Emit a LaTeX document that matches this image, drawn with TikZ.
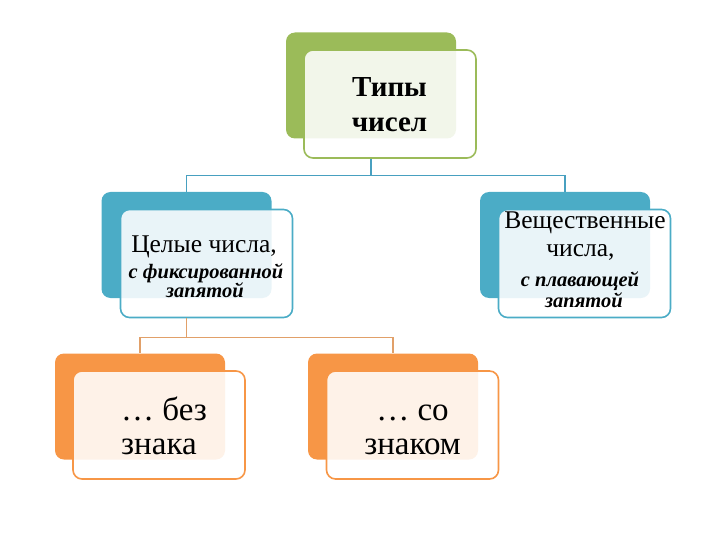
\documentclass[tikz,border=0pt]{standalone}
\usepackage{fontspec}
\setmainfont{Liberation Serif}
\definecolor{sgreen}{RGB}{155,187,89}
\definecolor{sblue}{RGB}{75,172,198}
\definecolor{sorange}{RGB}{247,150,70}
\definecolor{lblue}{RGB}{72,160,192}
\definecolor{lorange}{RGB}{225,160,105}
\begin{document}
\begin{tikzpicture}[x=1pt,y=-1pt,
  backbox/.style={rectangle, rounded corners=9pt, fill=#1, minimum width=170pt, minimum height=106pt, inner sep=0pt},
  frontbox/.style={rectangle, rounded corners=9pt, draw=#1, line width=1.6pt, fill=white, fill opacity=0.88, minimum width=172pt, minimum height=108pt, inner sep=0pt},
  link/.style={draw=#1, line width=1.4pt},
  txt/.style={inner sep=0pt, text=black, anchor=base},
  titletxt/.style={txt, font=\fontsize{29}{35}\selectfont\bfseries},
  maintxt/.style={txt, font=\fontsize{25.5}{27}\selectfont},
  subtxt/.style={txt, font=\fontsize{20.5}{20}\selectfont\bfseries\itshape},
  bigtxt/.style={txt, font=\fontsize{33}{34}\selectfont}]
\useasboundingbox (0,0) rectangle (720,540);
% back boxes
\node[backbox=sgreen] (gb) at (371,85.5) {};
\node[backbox=sblue] (lb) at (186.5,245) {};
\node[backbox=sblue] (rb) at (565,245) {};
\node[backbox=sorange] (ob1) at (140,406.5) {};
\node[backbox=sorange] (ob2) at (393,406.5) {};
% front boxes
\node[frontbox=sgreen] (gf) at (390,104) {};
\node[frontbox=sblue] (lf) at (206.5,263.5) {};
\node[frontbox=sblue] (rf) at (584.5,263.5) {};
\node[frontbox=sorange] (of1) at (159,425) {};
\node[frontbox=sorange] (of2) at (412.5,425) {};
% connectors
\draw[link=lblue] (gb.south |- gf.south) -- ++(0,17) -| (lb.north);
\draw[link=lblue] (gb.south |- gf.south) -- ++(0,17) -| (rb.north);
\draw[link=lorange] (lb.south |- lf.south) -- ++(0,19) -| (ob1.north);
\draw[link=lorange] (lb.south |- lf.south) -- ++(0,19) -| (ob2.north);
% texts
\node[titletxt] (gt1) at (389.5,96.7) {Типы};
\node[titletxt] (gt2) at (389.5,131.7) {чисел};
\node[maintxt] (lt1) at (204,252) {Целые числа,};
\node[subtxt] (lt2) at (206,278.3) {с фиксированной};
\node[subtxt] (lt3) at (205,297.7) {запятой};
\node[maintxt] (rt1) at (585,228.3) {Вещественные};
\node[maintxt] (rt2) at (580.5,256) {числа,};
\node[subtxt] (rt3) at (580,286.7) {с плавающей};
\node[subtxt] (rt4) at (584,307) {запятой};
\node[bigtxt, anchor=base west] (t1a) at (121,420) {… без};
\node[bigtxt, anchor=base west] (t1b) at (121,454) {знака};
\node[bigtxt] (t2a) at (412.5,420) {… со};
\node[bigtxt] (t2b) at (412.5,454) {знаком};
\end{tikzpicture}
\end{document}
